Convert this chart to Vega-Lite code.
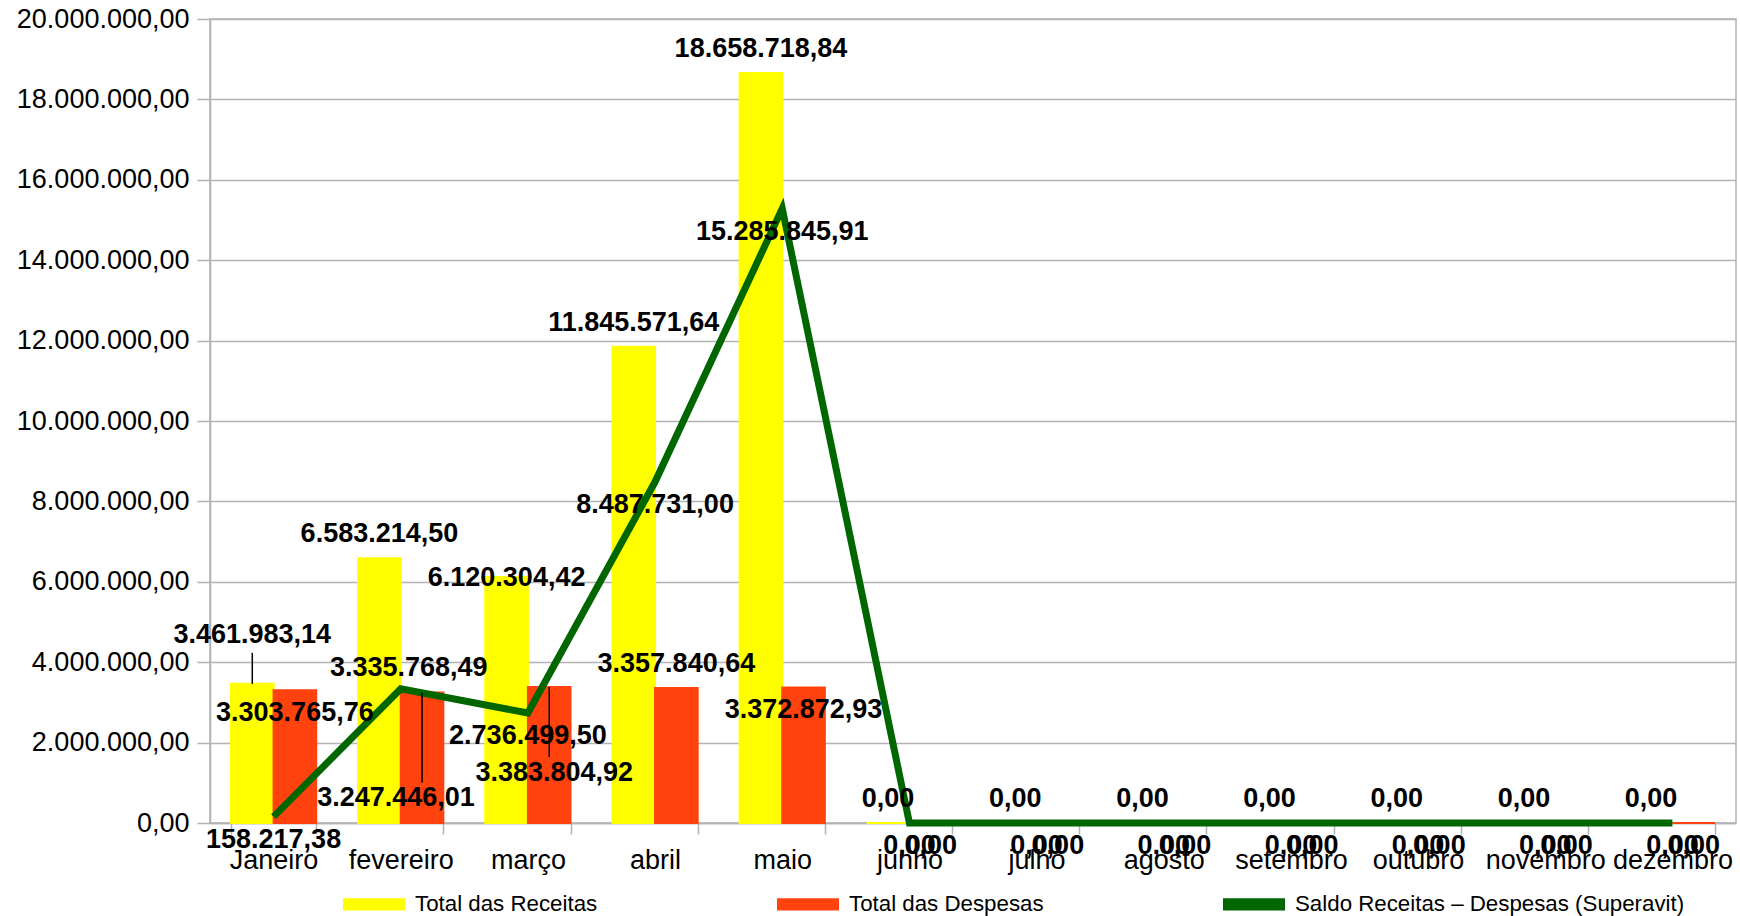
{
  "$schema": "https://vega.github.io/schema/vega-lite/v6.json",
  "width": 1526,
  "height": 804,
  "autosize": {"type": "none"},
  "padding": {"left": 210, "top": 19, "right": 4, "bottom": 93},
  "background": "white",
  "config": {
    "locale": {"number": {"decimal": ",", "thousands": ".", "grouping": [3], "currency": ["R$ ", ""]}},
    "view": {"stroke": "#b3b3b3", "strokeWidth": 1.5},
    "font": "Liberation Sans",
    "text": {"font": "Liberation Sans", "fontSize": 27, "fontWeight": "bold", "color": "#000", "baseline": "middle"}
  },
  "data": {
    "values": [
      {"mes": "Janeiro", "serie": "Total das Receitas", "valor": 3461983.14},
      {"mes": "fevereiro", "serie": "Total das Receitas", "valor": 6583214.50},
      {"mes": "março", "serie": "Total das Receitas", "valor": 6120304.42},
      {"mes": "abril", "serie": "Total das Receitas", "valor": 11845571.64},
      {"mes": "maio", "serie": "Total das Receitas", "valor": 18658718.84},
      {"mes": "junho", "serie": "Total das Receitas", "valor": 0},
      {"mes": "julho", "serie": "Total das Receitas", "valor": 0},
      {"mes": "agosto", "serie": "Total das Receitas", "valor": 0},
      {"mes": "setembro", "serie": "Total das Receitas", "valor": 0},
      {"mes": "outubro", "serie": "Total das Receitas", "valor": 0},
      {"mes": "novembro", "serie": "Total das Receitas", "valor": 0},
      {"mes": "dezembro", "serie": "Total das Receitas", "valor": 0},
      {"mes": "Janeiro", "serie": "Total das Despesas", "valor": 3303765.76},
      {"mes": "fevereiro", "serie": "Total das Despesas", "valor": 3247446.01},
      {"mes": "março", "serie": "Total das Despesas", "valor": 3383804.92},
      {"mes": "abril", "serie": "Total das Despesas", "valor": 3357840.64},
      {"mes": "maio", "serie": "Total das Despesas", "valor": 3372872.93},
      {"mes": "junho", "serie": "Total das Despesas", "valor": 0},
      {"mes": "julho", "serie": "Total das Despesas", "valor": 0},
      {"mes": "agosto", "serie": "Total das Despesas", "valor": 0},
      {"mes": "setembro", "serie": "Total das Despesas", "valor": 0},
      {"mes": "outubro", "serie": "Total das Despesas", "valor": 0},
      {"mes": "novembro", "serie": "Total das Despesas", "valor": 0},
      {"mes": "dezembro", "serie": "Total das Despesas", "valor": 0},
      {"mes": "Janeiro", "serie": "Saldo Receitas – Despesas (Superavit)", "valor": 158217.38},
      {"mes": "fevereiro", "serie": "Saldo Receitas – Despesas (Superavit)", "valor": 3335768.49},
      {"mes": "março", "serie": "Saldo Receitas – Despesas (Superavit)", "valor": 2736499.50},
      {"mes": "abril", "serie": "Saldo Receitas – Despesas (Superavit)", "valor": 8487731.00},
      {"mes": "maio", "serie": "Saldo Receitas – Despesas (Superavit)", "valor": 15285845.91},
      {"mes": "junho", "serie": "Saldo Receitas – Despesas (Superavit)", "valor": 0},
      {"mes": "julho", "serie": "Saldo Receitas – Despesas (Superavit)", "valor": 0},
      {"mes": "agosto", "serie": "Saldo Receitas – Despesas (Superavit)", "valor": 0},
      {"mes": "setembro", "serie": "Saldo Receitas – Despesas (Superavit)", "valor": 0},
      {"mes": "outubro", "serie": "Saldo Receitas – Despesas (Superavit)", "valor": 0},
      {"mes": "novembro", "serie": "Saldo Receitas – Despesas (Superavit)", "valor": 0},
      {"mes": "dezembro", "serie": "Saldo Receitas – Despesas (Superavit)", "valor": 0}
    ]
  },
  "encoding": {
    "x": {
      "field": "mes", "type": "nominal", "sort": null, "title": null,
      "scale": {"domain": ["Janeiro", "fevereiro", "março", "abril", "maio", "junho", "julho", "agosto", "setembro", "outubro", "novembro", "dezembro"], "paddingInner": 0.33, "paddingOuter": 0.165},
      "axis": {"labelAngle": 0, "labelFont": "Liberation Sans", "labelFontSize": 27, "labelColor": "#000", "tickBand": "extent", "tickSize": 11, "tickColor": "#b3b3b3", "tickWidth": 1.5, "domainColor": "#b3b3b3", "domainWidth": 1.5, "labelPadding": 13, "grid": false, "labelOverlap": false, "labelBound": false}
    },
    "y": {
      "field": "valor", "type": "quantitative", "title": null,
      "scale": {"domain": [0, 20000000], "nice": false, "zero": true},
      "axis": {"values": [0, 2000000, 4000000, 6000000, 8000000, 10000000, 12000000, 14000000, 16000000, 18000000, 20000000], "format": ",.2f", "labelFont": "Liberation Sans", "labelFontSize": 27, "labelColor": "#000", "tickColor": "#b3b3b3", "tickSize": 13, "tickWidth": 1.5, "domainColor": "#b3b3b3", "domainWidth": 1.5, "gridColor": "#b3b3b3", "gridWidth": 1.5, "labelPadding": 8, "grid": true}
    }
  },
  "layer": [
    {
      "transform": [{"filter": "datum.serie != 'Saldo Receitas – Despesas (Superavit)'"}],
      "mark": {"type": "bar", "strokeWidth": 2},
      "encoding": {
        "xOffset": {"field": "serie", "type": "nominal", "sort": null, "scale": {"domain": ["Total das Receitas", "Total das Despesas"], "paddingInner": 0, "paddingOuter": 0}},
        "color": {
          "field": "serie", "type": "nominal", "sort": null,
          "scale": {"domain": ["Total das Receitas", "Total das Despesas", "Saldo Receitas – Despesas (Superavit)"], "range": ["#ffff00", "#ff420e", "#006600"]},
          "legend": {
            "orient": "none", "legendX": 133, "legendY": 854, "direction": "horizontal", "columns": 3, "title": null,
            "symbolType": "M-1,-0.2H1V0.2H-1Z", "symbolSize": 3844, "symbolStrokeWidth": 0,
            "labelFont": "Liberation Sans", "labelFontSize": 22.3, "labelColor": "#000", "labelLimit": 600,
            "columnPadding": 179, "labelOffset": 10,
            "encode": {"symbols": {"update": {"fill": {"scale": "color", "field": "value"}, "stroke": {"value": "transparent"}, "opacity": {"value": 1}}}}
          }
        },
        "stroke": {
          "field": "serie", "type": "nominal", "legend": null,
          "scale": {"domain": ["Total das Receitas", "Total das Despesas", "Saldo Receitas – Despesas (Superavit)"], "range": ["#ffff00", "#ff420e", "#006600"]}
        }
      }
    },
    {
      "transform": [{"filter": "datum.serie == 'Saldo Receitas – Despesas (Superavit)'"}],
      "mark": {"type": "line", "strokeWidth": 7},
      "encoding": {"color": {"field": "serie", "type": "nominal"}}
    },
    {
      "transform": [{"filter": "datum.serie == 'Total das Receitas' && datum.mes == 'Janeiro'"}],
      "mark": {"type": "rule", "color": "#000", "strokeWidth": 1.5, "y2Offset": -31},
      "encoding": {"xOffset": {"field": "serie", "type": "nominal"}, "y2": {"field": "valor"}}
    },
    {
      "transform": [{"filter": "datum.serie == 'Total das Despesas' && datum.mes == 'fevereiro'"}],
      "mark": {"type": "rule", "color": "#000", "strokeWidth": 1.5, "y2Offset": 90},
      "encoding": {"xOffset": {"field": "serie", "type": "nominal"}, "y2": {"field": "valor"}}
    },
    {
      "transform": [{"filter": "datum.serie == 'Total das Despesas' && datum.mes == 'março'"}],
      "mark": {"type": "rule", "color": "#000", "strokeWidth": 1.5, "y2Offset": 70},
      "encoding": {"xOffset": {"field": "serie", "type": "nominal"}, "y2": {"field": "valor"}}
    },
    {
      "transform": [{"filter": "datum.serie == 'Total das Receitas' && datum.mes != 'Janeiro' && datum.mes != 'março'"}],
      "mark": {"type": "text", "dy": -24},
      "encoding": {"xOffset": {"field": "serie", "type": "nominal"}, "text": {"field": "valor", "type": "quantitative", "format": ",.2f"}}
    },
    {
      "transform": [{"filter": "datum.serie == 'Total das Receitas' && datum.mes == 'Janeiro'"}],
      "mark": {"type": "text", "dy": -49},
      "encoding": {"xOffset": {"field": "serie", "type": "nominal"}, "text": {"field": "valor", "type": "quantitative", "format": ",.2f"}}
    },
    {
      "transform": [{"filter": "datum.serie == 'Total das Receitas' && datum.mes == 'março'"}],
      "mark": {"type": "text", "dy": 1},
      "encoding": {"xOffset": {"field": "serie", "type": "nominal"}, "text": {"field": "valor", "type": "quantitative", "format": ",.2f"}}
    },
    {
      "transform": [{"filter": "datum.serie == 'Total das Despesas' && datum.mes == 'abril'"}],
      "mark": {"type": "text", "dy": -24},
      "encoding": {"xOffset": {"field": "serie", "type": "nominal"}, "text": {"field": "valor", "type": "quantitative", "format": ",.2f"}}
    },
    {
      "transform": [{"filter": "datum.serie == 'Total das Despesas' && (datum.mes == 'Janeiro' || datum.mes == 'maio' || datum.valor == 0)"}],
      "mark": {"type": "text", "dy": 23},
      "encoding": {"xOffset": {"field": "serie", "type": "nominal"}, "text": {"field": "valor", "type": "quantitative", "format": ",.2f"}}
    },
    {
      "transform": [{"filter": "datum.serie == 'Total das Despesas' && datum.mes == 'fevereiro'"}],
      "mark": {"type": "text", "dy": 106, "dx": -26},
      "encoding": {"xOffset": {"field": "serie", "type": "nominal"}, "text": {"field": "valor", "type": "quantitative", "format": ",.2f"}}
    },
    {
      "transform": [{"filter": "datum.serie == 'Total das Despesas' && datum.mes == 'março'"}],
      "mark": {"type": "text", "dy": 86, "dx": 5},
      "encoding": {"xOffset": {"field": "serie", "type": "nominal"}, "text": {"field": "valor", "type": "quantitative", "format": ",.2f"}}
    },
    {
      "transform": [{"filter": "datum.serie == 'Saldo Receitas – Despesas (Superavit)' && datum.mes != 'fevereiro'"}],
      "mark": {"type": "text", "dy": 23},
      "encoding": {"text": {"field": "valor", "type": "quantitative", "format": ",.2f"}}
    },
    {
      "transform": [{"filter": "datum.serie == 'Saldo Receitas – Despesas (Superavit)' && datum.mes == 'fevereiro'"}],
      "mark": {"type": "text", "dy": -21, "dx": 8},
      "encoding": {"text": {"field": "valor", "type": "quantitative", "format": ",.2f"}}
    }
  ]
}
